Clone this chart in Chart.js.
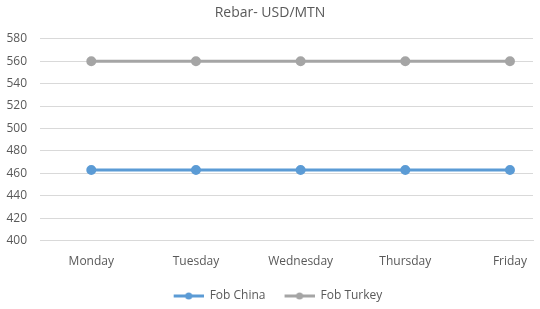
<!DOCTYPE html>
<html>
<head>
<meta charset="utf-8">
<script src="https://cdn.jsdelivr.net/npm/chart.js@4/dist/chart.umd.min.js"></script>
<style>
  body { margin: 0; background: #fff; }
  #wrap { width: 540px; height: 309px; }
</style>
</head>
<body>
<div id="wrap"><canvas id="rebarChart"></canvas></div>
<script>
var days = ['Monday', 'Tuesday', 'Wednesday', 'Thursday', 'Friday'];
var fobChina = [463, 463, 463, 463, 463];
var fobTurkey = [560, 560, 560, 560, 560];
var yTicks = [400, 420, 440, 460, 480, 500, 520, 540, 560, 580];

function toPoints(values) {
  var pts = [];
  for (var i in values) {
    pts.push({ x: Number(i), y: values[i] });
  }
  return pts;
}

// line-with-dot swatch like the excel legend, blank space on the left gives the item gap
function legendSwatch(color) {
  var c = document.createElement('canvas');
  c.width = 46; c.height = 10;
  var g = c.getContext('2d');
  g.strokeStyle = color;
  g.lineWidth = 3;
  g.beginPath(); g.moveTo(16, 5); g.lineTo(46, 5); g.stroke();
  g.fillStyle = color;
  g.beginPath(); g.arc(31, 5, 3.5, 0, Math.PI * 2); g.fill();
  return c;
}

var blue = '#5B9BD5';
var grey = '#A5A5A5';

var ctx = document.getElementById('rebarChart');

var lineChart = new Chart(ctx, {
  type: 'line',
  data: {
    datasets: [
      {
        label: 'Fob China',
        data: toPoints(fobChina),
        borderColor: blue,
        backgroundColor: blue,
        borderWidth: 3,
        pointRadius: 3.5,
        pointStyle: 'circle',
        swatch: legendSwatch(blue)
      },
      {
        label: 'Fob Turkey',
        data: toPoints(fobTurkey),
        borderColor: grey,
        backgroundColor: grey,
        borderWidth: 3,
        pointRadius: 3.5,
        pointStyle: 'circle',
        swatch: legendSwatch(grey)
      }
    ]
  },
  options: {
    responsive: true,
    maintainAspectRatio: false,
    animation: false,
    layout: { padding: { top: 0, right: 0, left: 0, bottom: -3 } },
    plugins: {
      title: {
        display: true,
        text: 'Rebar- USD/MTN',
        color: '#595959',
        font: { family: 'Open Sans', size: 14, weight: 'normal' },
        padding: { top: 5, bottom: 17 }
      },
      legend: {
        position: 'bottom',
        labels: {
          color: '#595959',
          font: { family: 'Open Sans', size: 12 },
          usePointStyle: true,
          pointStyleWidth: 46,
          padding: 3,
          generateLabels: function(chart) {
            return chart.data.datasets.map(function(ds, i) {
              return {
                text: ds.label,
                pointStyle: ds.swatch,
                fillStyle: ds.borderColor,
                strokeStyle: ds.borderColor,
                fontColor: '#595959',
                datasetIndex: i
              };
            });
          }
        }
      },
      tooltip: { enabled: false }
    },
    scales: {
      x: {
        type: 'linear',
        min: -0.49,
        max: 4.22,
        grid: { display: false },
        border: { color: '#D9D9D9' },
        afterBuildTicks: function(axis) {
          axis.ticks = days.map(function(d, i) { return { value: i }; });
        },
        afterFit: function(axis) { axis.height += 12; },
        ticks: {
          color: '#595959',
          font: { family: 'Open Sans', size: 12 },
          maxRotation: 0,
          autoSkip: false,
          padding: 6,
          callback: function(v) { return days[v]; }
        }
      },
      y: {
        min: yTicks[0],
        max: yTicks[yTicks.length - 1],
        grid: { color: '#D9D9D9', drawTicks: false },
        border: { display: false },
        afterFit: function(axis) { axis.width = 40; },
        ticks: {
          stepSize: 20,
          color: '#595959',
          font: { family: 'Open Sans', size: 12 },
          padding: 13
        }
      }
    }
  }
});
</script>
</body>
</html>
